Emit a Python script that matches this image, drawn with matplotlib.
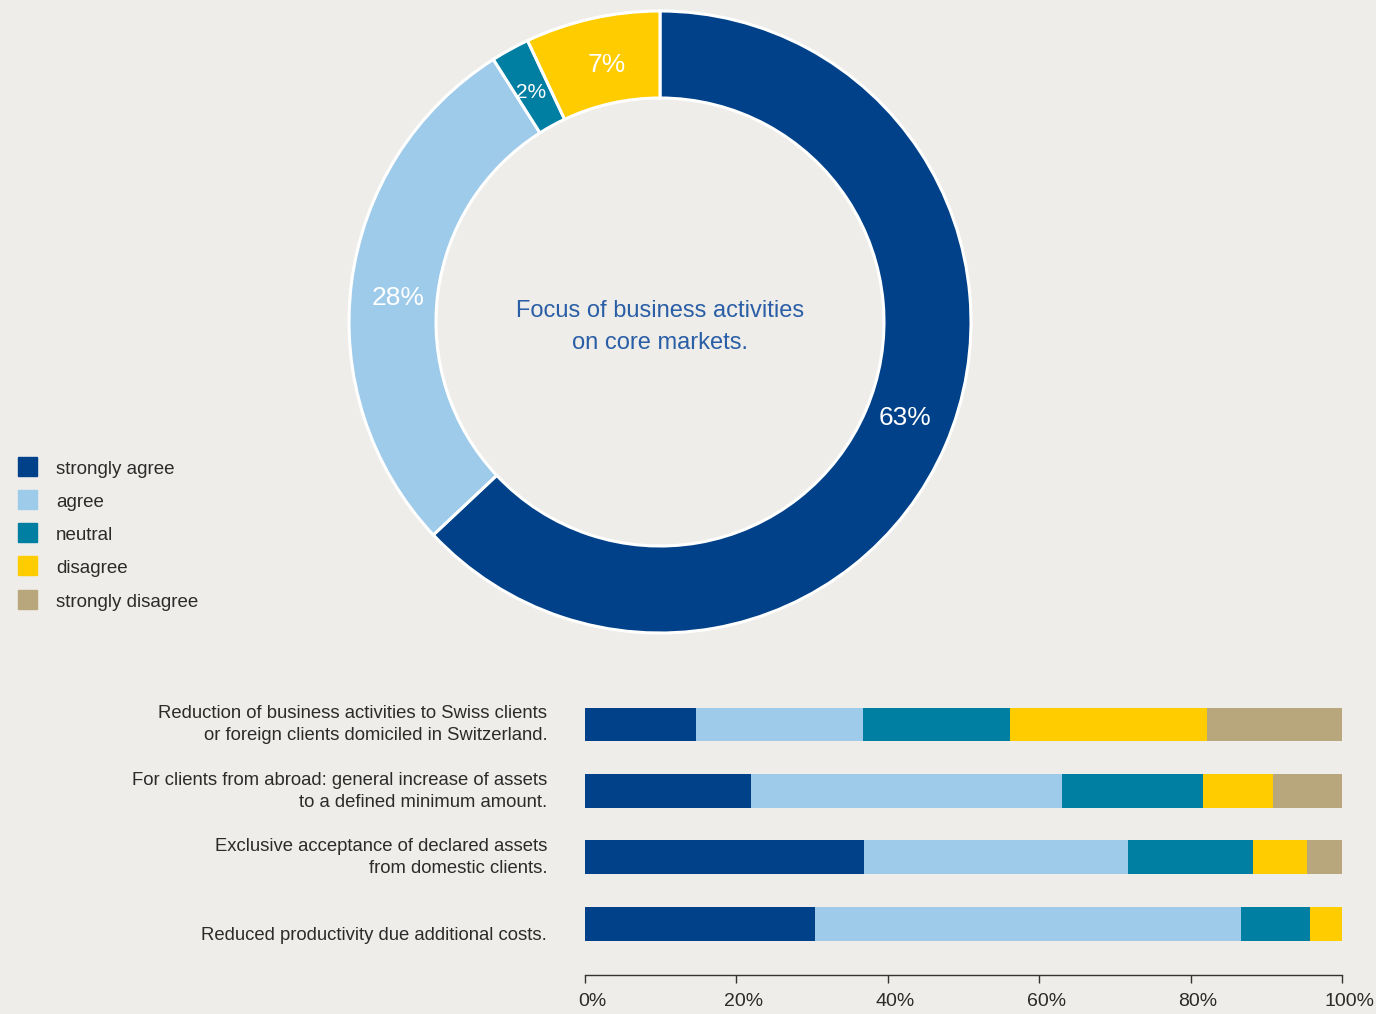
import numpy as np
import matplotlib.pyplot as plt
from matplotlib.transforms import ScaledTranslation

plt.rcParams['font.family'] = ['Liberation Sans', 'DejaVu Sans']

# answer categories and colours
categories = ['strongly agree', 'agree', 'neutral', 'disagree', 'strongly disagree']
colors = ['#004189', '#9fcbeb', '#007fa3', '#ffcc00', '#b8a77c']
bg = '#eeede9'

# donut: focus on core markets (strongly agree, agree, neutral, disagree)
donut_values = [63, 28, 2, 7]
donut_labels = ['63%', '28%', '2%', '7%']
donut_title = 'Focus of business activities\non core markets.'

# stacked bars, share per answer (%)
bar_questions = [
    'Reduction of business activities to Swiss clients\nor foreign clients domiciled in Switzerland.',
    'For clients from abroad: general increase of assets\nto a defined minimum amount.',
    'Exclusive acceptance of declared assets\nfrom domestic clients.',
    'Reduced productivity due additional costs.',
]
strongly_agree = [14.6, 21.9, 36.8, 30.4]
agree = [22.1, 41.1, 34.9, 56.2]
neutral = [19.5, 18.7, 16.6, 9.2]
disagree = [26.0, 9.2, 7.1, 4.2]
strongly_disagree = [17.8, 9.1, 4.6, 0.0]
xticks = [0, 20, 40, 60, 80, 100]

W, H = 1376, 1014
fig = plt.figure(figsize=(W / 100, H / 100), dpi=100, facecolor=bg)

# ---- donut ----
cx, cy, r_out, r_in = 660, 322, 311, 224
ax_d = fig.add_axes([(cx - r_out) / W, (H - cy - r_out) / H, 2 * r_out / W, 2 * r_out / H])
ax_d.set_facecolor(bg)
ring = 1 - r_in / r_out
ax_d.pie(donut_values, colors=colors[:4], startangle=90, counterclock=False, radius=1,
         wedgeprops=dict(width=ring, edgecolor='white', linewidth=2.2))
ax_d.set_xlim(-1, 1)
ax_d.set_ylim(-1, 1)
ax_d.set_aspect('equal')
ax_d.axis('off')

# percentage labels sit in the middle of the ring, nudged a little along the arc
cum = np.cumsum([0] + donut_values[:-1])
label_sizes = [19, 19, 15, 19]
label_nudge = [2, 2, 0.5, -1]
for v, c, lab, fs, nd in zip(donut_values, cum, donut_labels, label_sizes, label_nudge):
    ang = np.deg2rad(90 - 3.6 * (c + v / 2) + nd)
    rr = 0.845
    ax_d.text(rr * np.cos(ang), rr * np.sin(ang), lab, ha='center', va='center',
              color='white', fontsize=fs)

ax_d.text(0, -0.017, donut_title, ha='center', va='center', color='#2a5ea6',
          fontsize=17, linespacing=1.6)

# ---- legend ----
for i, (cat, col) in enumerate(zip(categories, colors)):
    yc = 466 + i * 33.3
    fig.patches.append(plt.Rectangle((18 / W, (H - yc - 9.5) / H), 19 / W, 19 / H,
                                     transform=fig.transFigure, color=col))
    fig.text(56 / W, (H - yc - 3) / H, cat, ha='left', va='center', fontsize=13.5, color='#2b2b2b')

# ---- stacked bars ----
x0, x1, y_axis = 585, 1342, 975
ax_b = fig.add_axes([x0 / W, (H - y_axis) / H, (x1 - x0) / W, (y_axis - 690) / H])
ax_b.set_facecolor(bg)
series = [strongly_agree, agree, neutral, disagree, strongly_disagree]
ypos = np.arange(len(bar_questions))
left = np.zeros(len(bar_questions))
for vals, col in zip(series, colors):
    ax_b.barh(ypos, vals, left=left, height=0.51, color=col, linewidth=0)
    left += np.array(vals)

ax_b.set_xlim(0, 100)
ax_b.set_ylim(3.77, -0.52)
ax_b.set_yticks([])
ax_b.set_xticks(xticks)
ax_b.set_xticklabels([f'{t}%' for t in xticks])
ax_b.tick_params(axis='x', direction='out', length=6, width=1, color='#333333',
                 labelsize=14, labelcolor='#2b2b2b', pad=7)
shift = ScaledTranslation(7 / 100, 0, fig.dpi_scale_trans)
for lbl in ax_b.get_xticklabels():
    lbl.set_transform(lbl.get_transform() + shift)
for s in ['top', 'right', 'left']:
    ax_b.spines[s].set_visible(False)
ax_b.spines['bottom'].set_color('#333333')
ax_b.spines['bottom'].set_linewidth(1)

for i, q in enumerate(bar_questions):
    ax_b.text(-0.05, i + 0.3, q, transform=ax_b.get_yaxis_transform(), ha='right', va='bottom',
              fontsize=13.3, color='#2b2b2b', linespacing=1.4)

fig.savefig('out.png', dpi=100, facecolor=bg)
